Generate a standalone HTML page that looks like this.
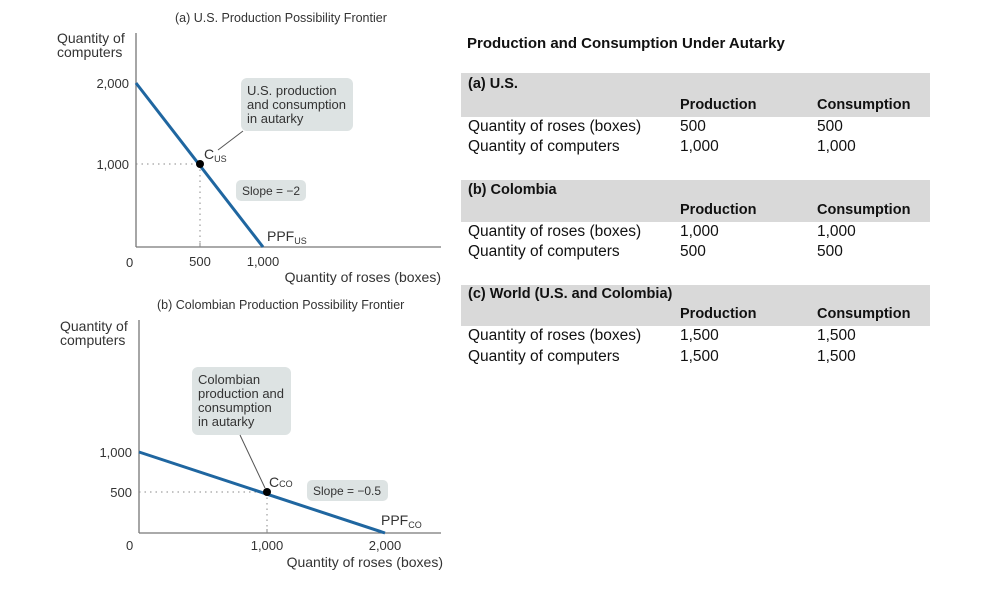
<!DOCTYPE html>
<html><head><meta charset="utf-8"><style>
body{margin:0;background:#fff;width:984px;height:598px;position:relative;overflow:hidden;font-family:"Liberation Sans",sans-serif;}
.t{position:absolute;white-space:nowrap;color:#111;font-size:15.5px;}
.b{font-weight:bold;font-size:14.5px;}
.band{position:absolute;left:461px;width:469px;background:#d9d9d9;}
</style></head><body>
<svg width="984" height="598" style="position:absolute;left:0;top:0" font-family="Liberation Sans, sans-serif" fill="#333">
<!-- Chart a -->
<text x="175" y="22" font-size="12.5">(a) U.S. Production Possibility Frontier</text>
<text x="57" y="43" font-size="14">Quantity of</text>
<text x="57" y="57" font-size="14">computers</text>
<line x1="136" y1="33" x2="136" y2="247" stroke="#777" stroke-width="1.3"/>
<line x1="136" y1="247" x2="441" y2="247" stroke="#777" stroke-width="1.3"/>
<text x="129" y="88" font-size="13" text-anchor="end">2,000</text>
<text x="129" y="169" font-size="13" text-anchor="end">1,000</text>
<text x="126" y="267" font-size="13">0</text>
<text x="200" y="266" font-size="13" text-anchor="middle">500</text>
<text x="263" y="266" font-size="13" text-anchor="middle">1,000</text>
<text x="441" y="282" font-size="14" text-anchor="end">Quantity of roses (boxes)</text>
<line x1="136" y1="164" x2="200" y2="164" stroke="#888" stroke-dasharray="1.5,4"/>
<line x1="200" y1="164" x2="200" y2="247" stroke="#888" stroke-dasharray="1.5,4"/>
<line x1="200" y1="243" x2="200" y2="247" stroke="#888"/>
<rect x="241" y="78" width="112" height="53" rx="6" fill="#dde3e3"/>
<text x="247" y="95" font-size="13">U.S. production</text>
<text x="247" y="109" font-size="13">and consumption</text>
<text x="247" y="123" font-size="13">in autarky</text>
<line x1="218" y1="150" x2="243" y2="131" stroke="#555"/>
<rect x="236" y="180" width="70" height="21" rx="5" fill="#dde3e3"/>
<text x="242" y="195" font-size="12">Slope = −2</text>
<line x1="136" y1="83" x2="263" y2="247" stroke="#1f66a0" stroke-width="3"/>
<circle cx="200" cy="164" r="4" fill="#000"/>
<text x="204" y="159" font-size="14">C<tspan font-size="9" dy="3">US</tspan></text>
<text x="267" y="241" font-size="14">PPF<tspan font-size="9" dy="3">US</tspan></text>
<!-- Chart b -->
<text x="157" y="309" font-size="12.5">(b) Colombian Production Possibility Frontier</text>
<text x="60" y="331" font-size="14">Quantity of</text>
<text x="60" y="345" font-size="14">computers</text>
<line x1="139" y1="320" x2="139" y2="533" stroke="#777" stroke-width="1.3"/>
<line x1="139" y1="533" x2="441" y2="533" stroke="#777" stroke-width="1.3"/>
<text x="132" y="457" font-size="13" text-anchor="end">1,000</text>
<text x="132" y="497" font-size="13" text-anchor="end">500</text>
<text x="126" y="550" font-size="13">0</text>
<text x="267" y="550" font-size="13" text-anchor="middle">1,000</text>
<text x="385" y="550" font-size="13" text-anchor="middle">2,000</text>
<text x="443" y="567" font-size="14" text-anchor="end">Quantity of roses (boxes)</text>
<line x1="139" y1="492" x2="267" y2="492" stroke="#888" stroke-dasharray="1.5,4"/>
<line x1="267" y1="492" x2="267" y2="533" stroke="#888" stroke-dasharray="1.5,4"/>
<line x1="267" y1="529" x2="267" y2="533" stroke="#888"/>
<rect x="192" y="367" width="99" height="68" rx="6" fill="#dde3e3"/>
<text x="198" y="384" font-size="13">Colombian</text>
<text x="198" y="398" font-size="13">production and</text>
<text x="198" y="412" font-size="13">consumption</text>
<text x="198" y="426" font-size="13">in autarky</text>
<line x1="240" y1="435" x2="265" y2="488" stroke="#555"/>
<rect x="307" y="480" width="81" height="21" rx="5" fill="#dde3e3"/>
<text x="313" y="495" font-size="12">Slope = −0.5</text>
<line x1="139" y1="452" x2="385" y2="533" stroke="#1f66a0" stroke-width="3"/>
<circle cx="267" cy="492" r="4" fill="#000"/>
<text x="269" y="487" font-size="14">C<tspan font-size="9" dy="0">CO</tspan></text>
<text x="381" y="525" font-size="14">PPF<tspan font-size="9" dy="3">CO</tspan></text>
</svg>
<div class="t b" style="left:467px;top:35px;font-size:15px">Production and Consumption Under Autarky</div>
<div class="band" style="top:73px;height:44px"></div>
<div class="band" style="top:180px;height:42px"></div>
<div class="band" style="top:285px;height:41px"></div>

<div class="t b" style="left:468px;top:76px">(a) U.S.</div>
<div class="t b" style="left:680px;top:97px">Production</div>
<div class="t b" style="left:817px;top:97px">Consumption</div>
<div class="t" style="left:468px;top:118px">Quantity of roses (boxes)</div>
<div class="t" style="left:680px;top:118px">500</div>
<div class="t" style="left:817px;top:118px">500</div>
<div class="t" style="left:468px;top:138px">Quantity of computers</div>
<div class="t" style="left:680px;top:138px">1,000</div>
<div class="t" style="left:817px;top:138px">1,000</div>

<div class="t b" style="left:468px;top:182px">(b) Colombia</div>
<div class="t b" style="left:680px;top:202px">Production</div>
<div class="t b" style="left:817px;top:202px">Consumption</div>
<div class="t" style="left:468px;top:223px">Quantity of roses (boxes)</div>
<div class="t" style="left:680px;top:223px">1,000</div>
<div class="t" style="left:817px;top:223px">1,000</div>
<div class="t" style="left:468px;top:243px">Quantity of computers</div>
<div class="t" style="left:680px;top:243px">500</div>
<div class="t" style="left:817px;top:243px">500</div>

<div class="t b" style="left:468px;top:286px">(c) World (U.S. and Colombia)</div>
<div class="t b" style="left:680px;top:306px">Production</div>
<div class="t b" style="left:817px;top:306px">Consumption</div>
<div class="t" style="left:468px;top:327px">Quantity of roses (boxes)</div>
<div class="t" style="left:680px;top:327px">1,500</div>
<div class="t" style="left:817px;top:327px">1,500</div>
<div class="t" style="left:468px;top:348px">Quantity of computers</div>
<div class="t" style="left:680px;top:348px">1,500</div>
<div class="t" style="left:817px;top:348px">1,500</div>
</body></html>
